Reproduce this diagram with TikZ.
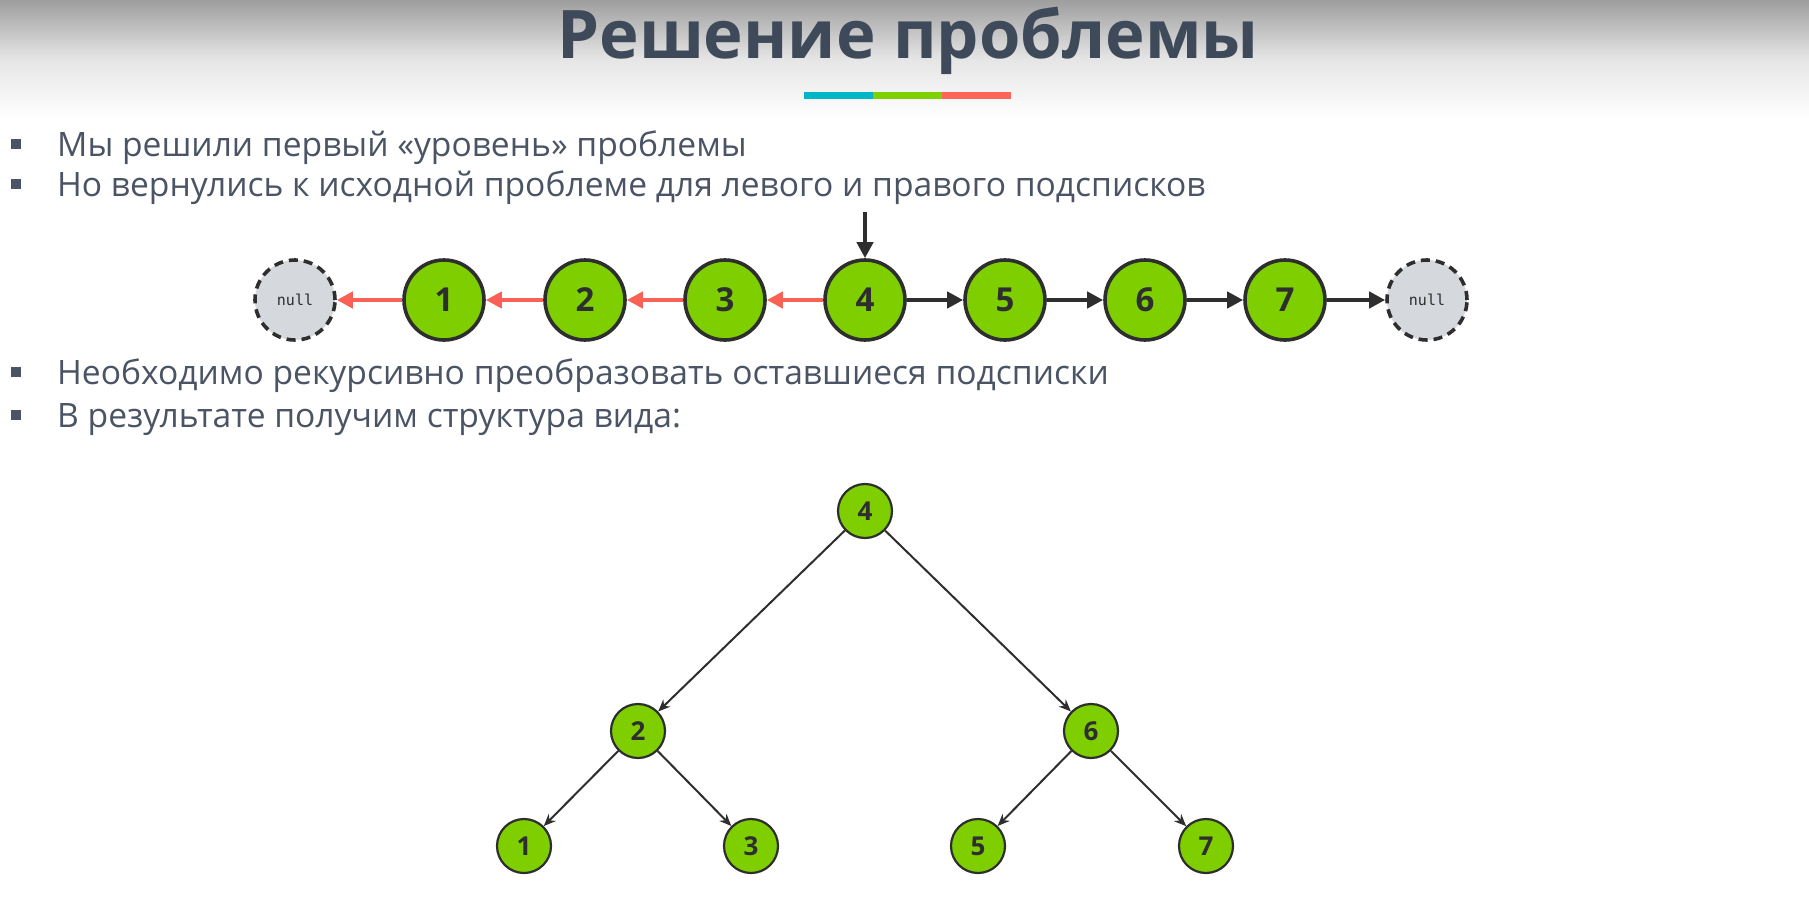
\documentclass[tikz,border=0pt]{standalone}
\usepackage{fontspec}
\setmainfont{Open Sans}
\setmonofont{DejaVu Sans Mono}
\usetikzlibrary{arrows.meta}
\definecolor{txt}{HTML}{4A5464}
\definecolor{ttl}{HTML}{3E4A59}
\definecolor{ngreen}{HTML}{7ECE00}
\definecolor{nborder}{HTML}{2E2E2E}
\definecolor{nullfill}{HTML}{D5D9DE}
\definecolor{redarr}{HTML}{F96157}
\definecolor{barc}{HTML}{00B6C6}
\definecolor{barg}{HTML}{7ED000}
\definecolor{barr}{HTML}{FF6459}
\tikzset{
  lnode/.style={circle,draw=nborder,line width=3.6pt,fill=ngreen,minimum size=80pt,inner sep=0pt,
    font=\fontsize{33}{33}\selectfont\bfseries,text=nborder},
  nullnode/.style={circle,draw=nborder,line width=3.6pt,dash pattern=on 9pt off 6pt,fill=nullfill,
    minimum size=80pt,inner sep=0pt,font=\ttfamily\fontsize{15}{15}\selectfont,text=nborder},
  tnode/.style={circle,draw=nborder,line width=2.2pt,fill=ngreen,minimum size=54pt,inner sep=0pt,
    font=\fontsize{26}{26}\selectfont\bfseries,text=nborder},
  redlink/.style={redarr,line width=4.5pt,-{Triangle[length=16pt,width=16pt]}},
  blklink/.style={nborder,line width=4.5pt,-{Triangle[length=16pt,width=16pt]}},
  treelink/.style={nborder,line width=2pt,-{Stealth[length=12pt,width=10pt]}},
  bullet/.style={fill=txt,minimum size=10pt,inner sep=0pt},
  btext/.style={anchor=base west,inner sep=0pt,text=txt,font=\fontsize{33.6}{33.6}\selectfont},
}
\begin{document}
\begin{tikzpicture}[x=1pt,y=-1pt]
\useasboundingbox (0,0) rectangle (1809,905);
\fill[white] (0,0) rectangle (1809,905);
\shade[top color=black!38,bottom color=white,middle color=black!10] (0,0) rectangle (1809,118);
% title
\node[anchor=base,inner sep=0pt,text=ttl,font=\fontsize{67}{67}\selectfont\bfseries] (title) at (908,58) {Решение проблемы};
\fill[barc] (804,92) rectangle (873,99);
\fill[barg] (873,92) rectangle (942,99);
\fill[barr] (942,92) rectangle (1011,99);
% bullets
\node[bullet] (b1) at (16,144) {};
\node[btext] (t1) at (57,156) {Мы решили первый «уровень» проблемы};
\node[bullet] (b2) at (16,184) {};
\node[btext] (t2) at (57,196) {Но вернулись к исходной проблеме для левого и правого подсписков};
\node[bullet] (b3) at (16,372) {};
\node[btext] (t3) at (57,384) {Необходимо рекурсивно преобразовать оставшиеся подсписки};
\node[bullet] (b4) at (16,415) {};
\node[btext] (t4) at (57,427) {В результате получим структура вида:};
% list
\node[nullnode] (nl) at (295,300) {null};
\node[lnode] (l1) at (444,300) {1};
\node[lnode] (l2) at (585,300) {2};
\node[lnode] (l3) at (725,300) {3};
\node[lnode] (l4) at (865,300) {4};
\node[lnode] (l5) at (1005,300) {5};
\node[lnode] (l6) at (1145,300) {6};
\node[lnode] (l7) at (1285,300) {7};
\node[nullnode] (nr) at (1427,300) {null};
\coordinate (top) at (865,212);
\draw[blklink] (top) -- (l4);
\draw[redlink] (l4) -- (l3);
\draw[redlink] (l3) -- (l2);
\draw[redlink] (l2) -- (l1);
\draw[redlink] (l1) -- (nl);
\draw[blklink] (l4) -- (l5);
\draw[blklink] (l5) -- (l6);
\draw[blklink] (l6) -- (l7);
\draw[blklink] (l7) -- (nr);
% tree
\node[tnode] (r4) at (865,511) {4};
\node[tnode] (r2) at (638,731) {2};
\node[tnode] (r6) at (1091,731) {6};
\node[tnode] (r1) at (524,846) {1};
\node[tnode] (r3) at (751,846) {3};
\node[tnode] (r5) at (978,846) {5};
\node[tnode] (r7) at (1206,846) {7};
\draw[treelink] (r4) -- (r2);
\draw[treelink] (r4) -- (r6);
\draw[treelink] (r2) -- (r1);
\draw[treelink] (r2) -- (r3);
\draw[treelink] (r6) -- (r5);
\draw[treelink] (r6) -- (r7);
\end{tikzpicture}
\end{document}
